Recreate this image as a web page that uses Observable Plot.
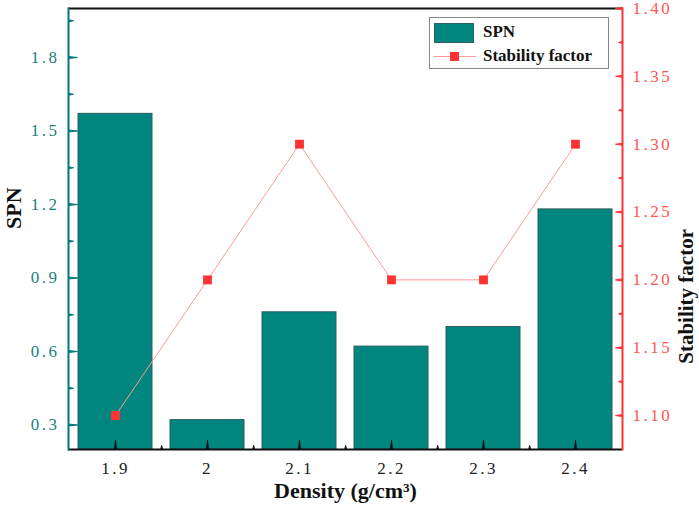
<!DOCTYPE html>
<html>
<head>
<meta charset="utf-8">
<script src="https://cdn.jsdelivr.net/npm/d3@7"></script>
<script src="https://cdn.jsdelivr.net/npm/@observablehq/plot@0.6"></script>
<style>
  body { margin: 0; background: #fff; }
  #wrap { position: relative; width: 699px; height: 515px; }
  #legend { position: absolute; left: 429px; top: 17px; width: 178px; height: 50px; border: 1px solid #888; background: #fff;
            font-family: "Liberation Serif", serif; font-weight: bold; font-size: 17px; color: #111; }
  .row { position: absolute; left: 0; height: 24px; width: 100%; }
  .sw { position: absolute; left: 4px; top: 3px; width: 40px; height: 20px; background: #00857f; border: 1px solid #2f5f5f; box-sizing: border-box; }
  .ln { position: absolute; left: 4px; top: 12px; width: 42px; height: 1px; background: #ff9999; }
  .mk { position: absolute; left: 20px; top: 8px; width: 9px; height: 9px; background: #ff3333; }
  .lab { position: absolute; left: 53px; top: 1px; line-height: 22px; }
</style>
</head>
<body>
<div id="wrap">
  <div id="chart"></div>
  <div id="legend">
    <div class="row" style="top:2px"><div class="sw"></div><div class="lab">SPN</div></div>
    <div class="row" style="top:26px"><div class="ln"></div><div class="mk"></div><div class="lab">Stability factor</div></div>
  </div>
</div>
<script>
const densities = ["1.9", "2", "2.1", "2.2", "2.3", "2.4"];
const spn = [1.57, 0.32, 0.76, 0.62, 0.70, 1.18];
const stability = [1.10, 1.20, 1.30, 1.20, 1.20, 1.30];
const spnTicks = [0.3, 0.6, 0.9, 1.2, 1.5, 1.8];
const spnMinor = [0.45, 0.75, 1.05, 1.35, 1.65, 1.95];
const stabTicks = [1.10, 1.15, 1.20, 1.25, 1.30, 1.35, 1.40];
const stabMinor = [1.125, 1.175, 1.225, 1.275, 1.325, 1.375];
const spnDomain = [0.2, 2.0];
const stabDomain = [1.075, 1.40];

const teal = "#007a78", red = "#ff3333";
const toY = d3.scaleLinear(stabDomain, spnDomain);
const data = densities.map((d, i) => ({density: d, spn: spn[i], stab: toY(stability[i])}));

const W = 699, H = 515, mL = 68, mR = 77, mT = 8, mB = 66;
const pw = W - mL - mR;
const halfStep = pw / densities.length / 2;
const font = "Liberation Serif, serif";

const tick = (values, opts, color) => Plot.vector(values, {shape: "spike", r: 1, anchor: "start", fill: color, stroke: color, strokeWidth: 1, ...opts});

const chart = Plot.plot({
  width: W, height: H,
  marginLeft: mL, marginRight: mR, marginTop: mT, marginBottom: mB,
  style: {fontFamily: font, background: "#fff"},
  x: {type: "band", domain: densities, paddingInner: 0.2, paddingOuter: 0.1, axis: null},
  y: {domain: spnDomain, axis: null},
  marks: [
    Plot.barY(data, {x: "density", y1: spnDomain[0], y2: "spn", fill: "#00857f", stroke: "#2f5f5f", strokeWidth: 1}),
    Plot.line(data, {x: "density", y: "stab", stroke: "#ff9999", strokeWidth: 1}),
    Plot.dot(data, {x: "density", y: "stab", symbol: "square", r: 5, fill: red, stroke: "none"}),
    // frame lines
    Plot.ruleY([spnDomain[1]], {stroke: "#111", strokeWidth: 2}),
    Plot.ruleY([spnDomain[0]], {stroke: "#111", strokeWidth: 2}),
    Plot.frame({anchor: "left", stroke: teal, strokeWidth: 2}),
    Plot.frame({anchor: "right", stroke: red, strokeWidth: 2}),
    // inward ticks
    tick(spnTicks, {y: d => d, frameAnchor: "left", rotate: 90, length: 9}, teal),
    tick(spnMinor, {y: d => d, frameAnchor: "left", rotate: 90, length: 5}, teal),
    tick(stabTicks.map(toY), {y: d => d, frameAnchor: "right", rotate: -90, length: 7}, red),
    tick(stabMinor.map(toY), {y: d => d, frameAnchor: "right", rotate: -90, length: 4}, red),
    tick(densities, {x: d => d, frameAnchor: "bottom", rotate: 0, length: 9}, "#111"),
    tick(densities.slice(0, -1), {x: d => d, dx: halfStep, frameAnchor: "bottom", rotate: 0, length: 4}, "#111"),
    // tick labels
    Plot.axisY({anchor: "left", ticks: spnTicks, tickSize: 0, tickPadding: 9, tickFormat: d3.format(".1f"), label: null,
      fill: "#1a7f7f", fontSize: 17}),
    Plot.axisY({anchor: "right", ticks: stabTicks.map(toY), tickSize: 0, tickPadding: 10, tickFormat: d => toY.invert(d).toFixed(2), label: null,
      fill: "#ff5555", fontSize: 17}),
    Plot.axisX({ticks: densities, tickSize: 0, tickPadding: 12, label: null, fill: "#222", fontSize: 17}),
    // axis titles
    Plot.text(["SPN"], {frameAnchor: "left", dx: -55, rotate: -90, fontSize: 22, fontWeight: "bold", fill: "#111"}),
    Plot.text(["Stability factor"], {frameAnchor: "right", dx: 64, rotate: -90, fontSize: 21, fontWeight: "bold", fill: "#111"}),
    Plot.text(["Density (g/cm³)"], {frameAnchor: "bottom", dy: 48, fontSize: 22, fontWeight: "bold", fill: "#111"})
  ]
});
d3.select(chart).selectAll('g[aria-label$="tick label"] text').attr("letter-spacing", "2.5px");
document.getElementById("chart").appendChild(chart);
</script>
</body>
</html>
